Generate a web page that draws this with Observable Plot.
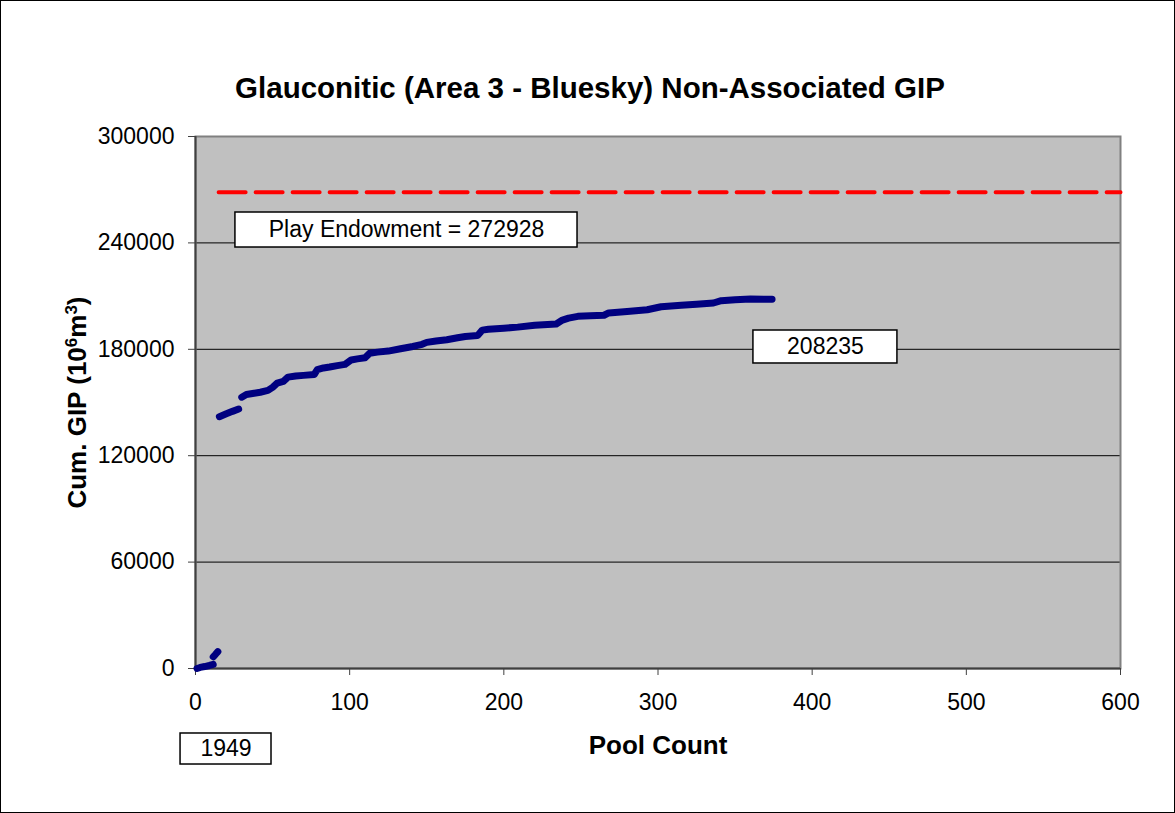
<!DOCTYPE html>
<html><head><meta charset="utf-8">
<script src="https://cdn.jsdelivr.net/npm/d3@7"></script>
<script src="https://cdn.jsdelivr.net/npm/@observablehq/plot@0.6"></script>
<style>
body{margin:0;background:#fff}
#chart svg{display:block;outline:1px solid #000;outline-offset:-1px}
</style>
</head><body><div id="chart"></div>
<script>
// ---- data ----
const poolCount = [1,3,6,9,11.5,
  11.5,13,14.5,
  15.5,20,24,28,
  30,33,38,42,47,50,53,57,60,65,70,77,79,83,87,92,97,101,105,110,113,118,125,133,141,147,150,156,163,170,175,183,186,190,200,209,220,234,238,242,248,256,265,268,280,293,302,315,325,336,341,350,360,374];
const cumGIP = [0,600,1100,1700,2300,
  6600,8000,9500,
  142000,143600,145000,146300,
  153000,154500,155200,155800,156800,158500,160900,161900,164300,164900,165300,165800,168500,169500,170000,170800,171500,174000,174600,175200,177800,178400,179000,180300,181600,182800,183900,184700,185400,186500,187200,187800,190800,191300,191900,192500,193600,194300,196500,197600,198600,198900,199200,200500,201300,202300,204000,204800,205400,206100,207400,208000,208300,208235];
const segment = [0,0,0,0,0, 1,1,1, 2,2,2,2,
  ...Array(54).fill(3)];
const xTicks = [0,100,200,300,400,500,600];
const yTicks = [0,60000,120000,180000,240000,300000];
const gridValues = [60000,120000,180000,240000];
const endowmentX = [15,600];
const endowmentY = [268600,268600];
const titleText = "Glauconitic (Area 3 - Bluesky) Non-Associated GIP";
const xLabel = "Pool Count";
const yLabel = "Cum. GIP (10⁶m³)";
const endowmentLabel = "Play Endowment = 272928";
const finalLabel = "208235";
const startLabel = "1949";

const rows = poolCount.map((n,i)=>({n, v: cumGIP[i], s: segment[i]}));
const endRows = endowmentX.map((n,i)=>({n, v: endowmentY[i]}));
const font = "'Liberation Sans', Arial, sans-serif";

const chart = Plot.plot({
  width: 1175, height: 813,
  marginLeft: 195, marginRight: 55, marginTop: 136, marginBottom: 145,
  style: {fontFamily: font, background: "#fff", color: "#000"},
  x: {domain: [0,600]},
  y: {domain: [0,300000]},
  marks: [
    Plot.frame({fill: "#c0c0c0"}),
    Plot.ruleY(gridValues, {stroke: "#000", strokeWidth: 1}),
    Plot.frame({stroke: "#808080", strokeWidth: 2}),
    Plot.ruleX([0], {stroke: "#404040", strokeWidth: 2}),
    Plot.ruleY([0], {stroke: "#404040", strokeWidth: 2}),
    Plot.axisX(xTicks, {tickSize: 7, tickPadding: 18, fontSize: 23, stroke: "#404040", tickFormat: d => String(d), label: null}),
    Plot.axisY(yTicks, {tickSize: 7, tickPadding: 14, fontSize: 23, stroke: "#404040", tickFormat: d => String(d), label: null}),
    Plot.line(endRows, {x: "n", y: "v", stroke: "#ff0000", strokeWidth: 4, strokeDasharray: "27,10"}),
    Plot.line(rows, {x: "n", y: "v", z: "s", stroke: "#000080", strokeWidth: 7, strokeLinecap: "round", strokeLinejoin: "round"}),
    // annotation boxes
    Plot.rect([endowmentLabel], {x1: 25.9, x2: 247.8, y1: 237400, y2: 257140, fill: "#fff", stroke: "#000", strokeWidth: 1.5}),
    Plot.text([endowmentLabel], {x: 136.9, y: 247270, text: d => d, fontSize: 23, fill: "#000"}),
    Plot.rect([finalLabel], {x1: 361.9, x2: 455.3, y1: 172000, y2: 190600, fill: "#fff", stroke: "#000", strokeWidth: 1.5}),
    Plot.text([finalLabel], {x: 408.6, y: 181300, text: d => d, fontSize: 23, fill: "#000"}),
    Plot.rect([startLabel], {x1: -9.7, x2: 49.3, y1: -54140, y2: -36650, fill: "#fff", stroke: "#000", strokeWidth: 1.5}),
    Plot.text([startLabel], {x: 19.8, y: -45400, text: d => d, fontSize: 23, fill: "#000"}),
    // titles
    Plot.text([titleText], {frameAnchor: "top", lineAnchor: "middle", textAnchor: "middle", dx: -68, dy: -48, text: d => d, fontSize: 29.5, fontWeight: "bold", fill: "#000"}),
    Plot.text([xLabel], {frameAnchor: "bottom", lineAnchor: "middle", textAnchor: "middle", dy: 77, text: d => d, fontSize: 26, fontWeight: "bold", fill: "#000"}),
    Plot.text([yLabel], {frameAnchor: "left", lineAnchor: "middle", textAnchor: "middle", dx: -118, rotate: -90, text: d => d, fontSize: 26, fontWeight: "bold", fill: "#000", className: "ylabel"})
  ]
});
document.getElementById("chart").append(chart);
// render superscripts of the y label as real raised text
const yl = chart.querySelector(".ylabel text");
if (yl) {
  yl.textContent = "";
  const parts = [["Cum. GIP (10", false], ["6", true], ["m", false], ["3", true], [")", false]];
  for (const [t, sup] of parts) {
    const ts = document.createElementNS("http://www.w3.org/2000/svg", "tspan");
    ts.textContent = t;
    if (sup) { ts.setAttribute("baseline-shift", "super"); ts.setAttribute("font-size", "17"); }
    yl.appendChild(ts);
  }
}
</script>
</body></html>
